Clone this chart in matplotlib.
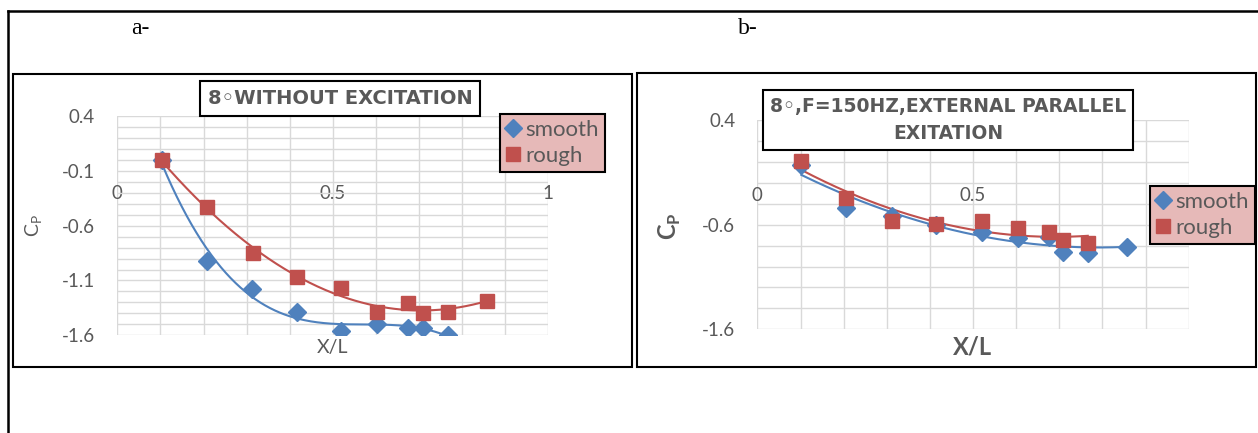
import matplotlib
matplotlib.use('Agg')
import matplotlib.pyplot as plt
import numpy as np
from matplotlib.lines import Line2D
from matplotlib.patches import Rectangle
from matplotlib.ticker import MultipleLocator, FixedLocator

# ---- data (Cp vs X/L) ----
x_a_smooth = [0.104, 0.207, 0.312, 0.416, 0.520, 0.603, 0.675, 0.708, 0.766]
cp_a_smooth = [0.0, -0.92, -1.18, -1.385, -1.56, -1.50, -1.53, -1.53, -1.60]
x_a_rough = [0.104, 0.207, 0.314, 0.416, 0.520, 0.603, 0.675, 0.708, 0.766, 0.858]
cp_a_rough = [0.0, -0.433, -0.852, -1.065, -1.172, -1.385, -1.308, -1.393, -1.385, -1.284]

x_b_smooth = [0.102, 0.206, 0.311, 0.415, 0.520, 0.604, 0.675, 0.708, 0.766, 0.858]
cp_b_smooth = [-0.03, -0.444, -0.52, -0.60, -0.667, -0.73, -0.72, -0.858, -0.87, -0.81]
x_b_rough = [0.102, 0.206, 0.311, 0.415, 0.520, 0.604, 0.675, 0.708, 0.766]
cp_b_rough = [0.011, -0.348, -0.565, -0.597, -0.565, -0.635, -0.667, -0.746, -0.778]

title_a = '8\u25e6WITHOUT EXCITATION'
title_b = '8\u25e6,F=150HZ,EXTERNAL PARALLEL\nEXITATION'

BLUE = '#4F81BD'
RED = '#C0504D'
GRAY = '#595959'
GRID = '#D9D9D9'
PINK = '#E6B9B8'

W, H = 1258, 433
plt.rcParams['font.family'] = ['Lato', 'DejaVu Sans']


def fx(px):
    return px / W


def fy(py):
    return 1 - py / H


def trend(x, y, deg, x_end=None):
    coef = np.polyfit(x, y, deg)
    xs = np.linspace(min(x), x_end if x_end else max(x), 200)
    return xs, np.polyval(coef, xs)


def draw_panel(ax, xs_s, ys_s, xs_r, ys_r, deg_s, deg_r, ymajor, yminor, s_end=None):
    ax.set_xlim(0, 1)
    ax.set_ylim(-1.6, 0.4)
    for sp in ax.spines.values():
        sp.set_visible(False)
    ax.spines['bottom'].set_position(('data', 0))

    ax.xaxis.set_major_locator(MultipleLocator(0.5))
    ax.xaxis.set_minor_locator(MultipleLocator(0.1))
    ax.yaxis.set_major_locator(FixedLocator(ymajor))
    ax.yaxis.set_minor_locator(MultipleLocator(yminor))
    ax.xaxis.set_major_formatter(lambda v, p: f'{v:g}')
    ax.yaxis.set_major_formatter(lambda v, p: f'{v:g}')
    ax.tick_params(which='both', length=0, labelcolor=GRAY, labelsize=13.5)
    ax.tick_params(axis='y', pad=16)
    ax.tick_params(axis='x', pad=18)
    ax.grid(True, which='both', color=GRID, linewidth=1.0)
    ax.set_axisbelow(True)

    tx, ty = trend(xs_s, ys_s, deg_s, s_end)
    ax.plot(tx, ty, color=BLUE, linewidth=1.5, zorder=2)
    tx, ty = trend(xs_r, ys_r, deg_r)
    ax.plot(tx, ty, color=RED, linewidth=1.5, zorder=2)
    ax.plot(xs_s, ys_s, 'D', color=BLUE, markersize=9.5, linestyle='none',
            label='smooth', zorder=3)
    ax.plot(xs_r, ys_r, 's', color=RED, markersize=10.5, linestyle='none',
            label='rough', zorder=4)


def legend(ax, x0, y0):
    lg = ax.legend(loc='upper left', bbox_to_anchor=(fx(x0), fy(y0)),
                   bbox_transform=ax.figure.transFigure, borderaxespad=0,
                   fancybox=False, framealpha=1, facecolor=PINK, edgecolor='black',
                   fontsize=16, handlelength=0.7, handletextpad=0.2,
                   borderpad=0.25, labelspacing=0.3)
    lg.get_frame().set_linewidth(1.5)
    for t in lg.get_texts():
        t.set_color(GRAY)
    return lg


fig = plt.figure(figsize=(W / 100, H / 100), dpi=100, facecolor='white')

# page / table frame
fig.add_artist(Line2D([fx(8), 1], [fy(11), fy(11)], color='black', linewidth=1.8))
fig.add_artist(Line2D([fx(8), fx(8)], [fy(11), 0], color='black', linewidth=1.8))
fig.add_artist(Rectangle((fx(13), fy(367)), fx(632 - 13), (367 - 74) / H,
                         fill=False, edgecolor='black', linewidth=1.5))
fig.add_artist(Rectangle((fx(637), fy(367)), fx(1256 - 637), (367 - 73) / H,
                         fill=False, edgecolor='black', linewidth=1.5))
fig.text(fx(140), fy(29), 'a-', family='Liberation Serif', fontsize=17,
         ha='center', va='center')
fig.text(fx(748), fy(29), 'b-', family='Liberation Serif', fontsize=17,
         ha='center', va='center')

# Panel a: without excitation
ax1 = fig.add_axes([fx(117.3), fy(335.3), fx(548.4 - 117.3), (335.3 - 116) / H])
draw_panel(ax1, x_a_smooth, cp_a_smooth, x_a_rough, cp_a_rough, 3, 2,
           [0.4, -0.1, -0.6, -1.1, -1.6], 0.1, s_end=0.858)
legend(ax1, 500, 114)
fig.text(fx(340), fy(98.5), title_a, family='DejaVu Sans', fontsize=14,
         fontweight='bold', color=GRAY, ha='center', va='center',
         bbox=dict(boxstyle='square,pad=0.4', facecolor='white',
                   edgecolor='black', linewidth=1.5))
fig.text(fx(333), fy(348), 'X/L', fontsize=14, color=GRAY, ha='center', va='center')
fig.text(fx(34), fy(226), 'C$_\\mathregular{P}$', fontsize=14, color=GRAY,
         rotation=90, ha='center', va='center')

# Panel b: F=150Hz external parallel excitation
ax2 = fig.add_axes([fx(757.4), fy(329.3), fx(1188.7 - 757.4), (329.3 - 120) / H])
draw_panel(ax2, x_b_smooth, cp_b_smooth, x_b_rough, cp_b_rough, 2, 2,
           [0.4, -0.6, -1.6], 0.2)
legend(ax2, 1150, 186)
fig.text(fx(948), fy(120), title_b, family='DejaVu Sans', fontsize=13.5,
         fontweight='bold', color=GRAY, ha='center', va='center',
         linespacing=1.55,
         bbox=dict(boxstyle='square,pad=0.35', facecolor='white',
                   edgecolor='black', linewidth=1.5))
fig.text(fx(973), fy(347), 'X/L', fontsize=17, fontweight='bold', color=GRAY,
         ha='center', va='center')
fig.text(fx(670), fy(226), 'C$_\\mathregular{P}$', fontsize=17, fontweight='bold',
         color=GRAY, rotation=90, ha='center', va='center')

fig.savefig('out.png', dpi=100)
